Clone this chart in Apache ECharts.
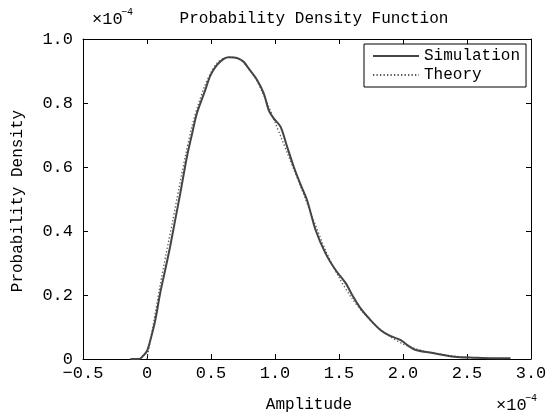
<!DOCTYPE html>
<html><head><meta charset="utf-8">
<script src="https://cdn.jsdelivr.net/npm/echarts@6/dist/echarts.min.js"></script>
<style>html,body{margin:0;padding:0;background:#fff}#c{width:555px;height:418px}</style>
</head><body><div id="c"></div>
<script>
// Simulation curve (x in units of 1e-4, y in units of 1e-4)
const simX = [-0.13,-0.06,-0.03,0.0,0.025,0.064,0.103,0.142,0.18,0.22,0.26,0.312,0.35,0.39,0.455,0.494,0.547,0.6,0.64,0.68,0.72,0.755,0.794,0.86,0.912,0.951,0.99,1.043,1.095,1.147,1.2,1.25,1.317,1.395,1.473,1.552,1.61,1.669,1.75,1.826,1.9,1.982,2.04,2.1,2.243,2.4,2.55,2.7,2.84];
const simY = [0,0,0.01,0.025,0.057,0.12,0.206,0.278,0.35,0.434,0.518,0.632,0.70,0.768,0.84,0.885,0.919,0.938,0.943,0.942,0.938,0.929,0.908,0.872,0.83,0.778,0.752,0.726,0.663,0.60,0.545,0.497,0.403,0.33,0.278,0.237,0.195,0.158,0.12,0.09,0.072,0.059,0.042,0.028,0.018,0.007,0.004,0.002,0.002];
// Theory curve
const theoryX = [0,0.02,0.05,0.1,0.15,0.2,0.25,0.3,0.35,0.4,0.45,0.5,0.55,0.6,0.65,0.7,0.75,0.8,0.85,0.9,0.95,1.0,1.05,1.1,1.15,1.2,1.3,1.4,1.5,1.6,1.7,1.8,1.9,2.0,2.1,2.2,2.4,2.6,2.8];
const theoryY = [0,0.045,0.11,0.225,0.33,0.43,0.535,0.635,0.725,0.795,0.852,0.896,0.926,0.94,0.943,0.94,0.928,0.905,0.875,0.835,0.79,0.74,0.69,0.64,0.59,0.54,0.435,0.335,0.255,0.19,0.14,0.1,0.07,0.047,0.032,0.021,0.009,0.003,0.001];
const xMin = -0.5, xMax = 3.0, xStep = 0.5;
const yMin = 0, yMax = 1.0, yStep = 0.2;
const seriesNames = ['Simulation','Theory'];

const FONT = 'Liberation Mono';
const sim = simX.map((x,i)=>[x,simY[i]]);
const theory = theoryX.map((x,i)=>[x,theoryY[i]]);
const fmtX = v => v === 0 ? '0' : (v < 0 ? '\u2212' : '') + Math.abs(v).toFixed(1);
const fmtY = v => v === 0 ? '0' : v.toFixed(1);
const axisLine = {show:true, onZero:false, lineStyle:{color:'#000', width:1}};
const tick = {show:true, inside:true, length:5, lineStyle:{color:'#000'}};

const chart = echarts.init(document.getElementById('c'), null, {renderer:'canvas'});
chart.setOption({
  animation:false,
  backgroundColor:'#fff',
  grid:{left:83, right:24, top:39, bottom:59, show:false},
  legend:{
    orient:'vertical', left:364, top:44,
    data:seriesNames,
    itemWidth:46, itemHeight:14, itemGap:3,
    padding:[4,6,4,8],
    borderColor:'#000', borderWidth:1, backgroundColor:'#fff',
    itemStyle:{opacity:0},
    textStyle:{fontFamily:FONT, fontSize:16, color:'#000'}
  },
  xAxis:[
    {type:'value', min:xMin, max:xMax, interval:xStep, position:'bottom',
     axisLine, axisTick:tick, splitLine:{show:false},
     axisLabel:{formatter:fmtX, color:'#000', fontFamily:FONT, fontSize:17, margin:6}},
    {type:'value', min:xMin, max:xMax, interval:xStep, position:'top',
     axisLine, axisTick:tick, splitLine:{show:false}, axisLabel:{show:false}}
  ],
  yAxis:[
    {type:'value', min:yMin, max:yMax, interval:yStep, position:'left',
     axisLine, axisTick:tick, splitLine:{show:false},
     axisLabel:{formatter:fmtY, color:'#000', fontFamily:FONT, fontSize:17, margin:10}},
    {type:'value', min:yMin, max:yMax, interval:yStep, position:'right',
     axisLine, axisTick:tick, splitLine:{show:false}, axisLabel:{show:false}}
  ],
  series:[
    {name:seriesNames[0], type:'line', data:sim, smooth:0.3, symbol:'none', xAxisIndex:0, yAxisIndex:0,
     lineStyle:{color:'#444', width:2}, itemStyle:{color:'#444'}, z:3},
    {name:seriesNames[1], type:'line', data:theory, smooth:0.3, symbol:'none', xAxisIndex:0, yAxisIndex:0,
     lineStyle:{color:'#555', width:1.3, type:[1.3,2.2]}, itemStyle:{color:'#555'}, z:2}
  ],
  graphic:[
    {type:'text', x:314, y:19, style:{text:'Probability Density Function', font:'16px '+FONT, fill:'#000', align:'center', verticalAlign:'middle'}},
    {type:'text', x:92, y:19, style:{text:'\u00d710', font:'17px '+FONT, fill:'#000', align:'left', verticalAlign:'middle'}},
    {type:'text', x:121, y:12, style:{text:'\u22124', font:'10px '+FONT, fill:'#000', align:'left', verticalAlign:'middle'}},
    {type:'text', x:496, y:405, style:{text:'\u00d710', font:'17px '+FONT, fill:'#000', align:'left', verticalAlign:'middle'}},
    {type:'text', x:525, y:398, style:{text:'\u22124', font:'10px '+FONT, fill:'#000', align:'left', verticalAlign:'middle'}},
    {type:'text', x:309, y:405, style:{text:'Amplitude', font:'16px '+FONT, fill:'#000', align:'center', verticalAlign:'middle'}},
    {type:'text', x:18, y:201, rotation:Math.PI/2, style:{text:'Probability Density', font:'16px '+FONT, fill:'#000', align:'center', verticalAlign:'middle'}}
  ]
});
</script></body></html>
